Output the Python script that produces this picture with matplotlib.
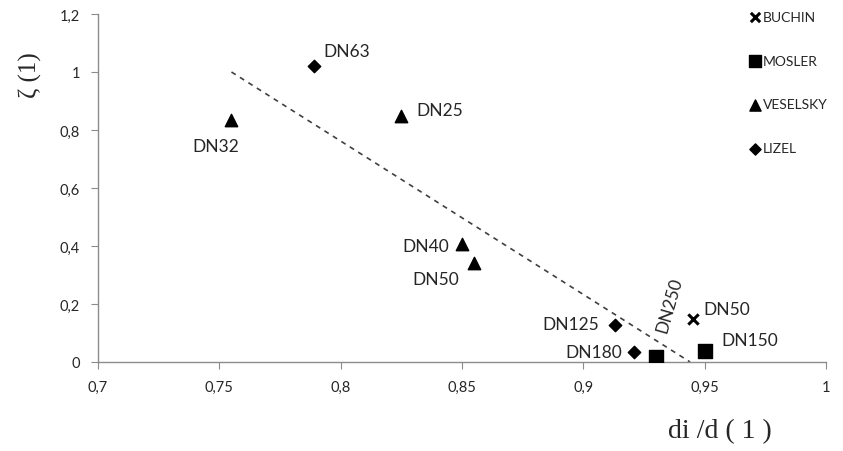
import matplotlib
matplotlib.use("Agg")
import matplotlib.pyplot as plt
from matplotlib.ticker import FuncFormatter, MultipleLocator

# Data
buchin_x = [0.945]
buchin_y = [0.148]
buchin_lbl = ["DN50"]

mosler_x = [0.930, 0.950]
mosler_y = [0.017, 0.038]
mosler_lbl = ["DN250", "DN150"]

veselsky_x = [0.755, 0.825, 0.850, 0.855]
veselsky_y = [0.834, 0.848, 0.407, 0.341]
veselsky_lbl = ["DN32", "DN25", "DN40", "DN50"]

lizel_x = [0.789, 0.913, 0.921]
lizel_y = [1.021, 0.128, 0.034]
lizel_lbl = ["DN63", "DN125", "DN180"]

trend_x = [0.755, 0.944]
trend_y = [1.0, 0.0]

fig = plt.figure(figsize=(8.43, 4.52), dpi=100)
ax = fig.add_axes([98/843, 1-363/452, 728/843, 348/452])

ax.plot(trend_x, trend_y, ls=(0, (3, 3)), color="#404040", lw=1.2, zorder=1)

ax.scatter(buchin_x, buchin_y, marker="x", s=55, color="black", linewidths=2.2, label="BUCHIN", zorder=3)
ax.scatter(mosler_x, mosler_y, marker="s", s=90, color="black", label="MOSLER", zorder=3)
ax.scatter(veselsky_x, veselsky_y, marker="^", s=80, color="black", label="VESELSKY", zorder=3)
ax.scatter(lizel_x, lizel_y, marker="D", s=40, color="black", label="LIZEL", zorder=3)

lab_font = dict(family="Lato", fontsize=12.5, color="#262626")

def ann(x, y, t, dx, dy, ha, va, rot=0):
    ax.annotate(t, (x, y), xytext=(dx, dy), textcoords="offset pixels",
                ha=ha, va=va, rotation=rot, **lab_font)

# BUCHIN
ann(buchin_x[0], buchin_y[0], buchin_lbl[0], 11, 10, "left", "center")
# MOSLER
ann(mosler_x[0], mosler_y[0], mosler_lbl[0], 13, 53, "center", "center", rot=74)
ann(mosler_x[1], mosler_y[1], mosler_lbl[1], 17, 11, "left", "center")
# VESELSKY
ann(veselsky_x[0], veselsky_y[0], veselsky_lbl[0], -16, -26, "center", "center")
ann(veselsky_x[1], veselsky_y[1], veselsky_lbl[1], 15, 6, "left", "center")
ann(veselsky_x[2], veselsky_y[2], veselsky_lbl[2], -13, -2, "right", "center")
ann(veselsky_x[3], veselsky_y[3], veselsky_lbl[3], -15, -16, "right", "center")
# LIZEL
ann(lizel_x[0], lizel_y[0], lizel_lbl[0], 9, 15, "left", "center")
ann(lizel_x[1], lizel_y[1], lizel_lbl[1], -16, 1, "right", "center")
ann(lizel_x[2], lizel_y[2], lizel_lbl[2], -12, 0, "right", "center")

ax.set_xlim(0.7, 1.0)
ax.set_ylim(0, 1.2)
ax.xaxis.set_major_locator(MultipleLocator(0.05))
ax.yaxis.set_major_locator(MultipleLocator(0.2))

def fmt(v, pos):
    s = f"{v:.2f}".rstrip("0").rstrip(".")
    return s.replace(".", ",")

ax.xaxis.set_major_formatter(FuncFormatter(fmt))
ax.yaxis.set_major_formatter(FuncFormatter(fmt))

for sp in ["top", "right"]:
    ax.spines[sp].set_visible(False)
for sp in ["left", "bottom"]:
    ax.spines[sp].set_color("#8c8c8c")
    ax.spines[sp].set_linewidth(1.0)
ax.tick_params(axis="both", direction="out", length=5, color="#8c8c8c",
               labelsize=10.5, labelcolor="#262626", pad=8)
for t in ax.get_xticklabels() + ax.get_yticklabels():
    t.set_family("Lato")

fig.text(668/843, 1-432/452, "di /d ( 1 )", family="Liberation Serif", fontsize=20,
         ha="left", va="center", color="#262626")
fig.text(30/843, 1-75/452, "ζ (1)", family="Liberation Serif", fontsize=18,
         ha="center", va="center", rotation=90, color="#262626")

leg = ax.legend(loc="upper left", bbox_to_anchor=(742/843, 1-6/452),
                bbox_transform=fig.transFigure, frameon=False,
                labelspacing=2.3, handletextpad=0.1, handlelength=1.0,
                borderaxespad=0, prop=dict(family="Lato", size=10),
                markerscale=0.9)
for t in leg.get_texts():
    t.set_color("#262626")

fig.savefig("out.png", dpi=100)
